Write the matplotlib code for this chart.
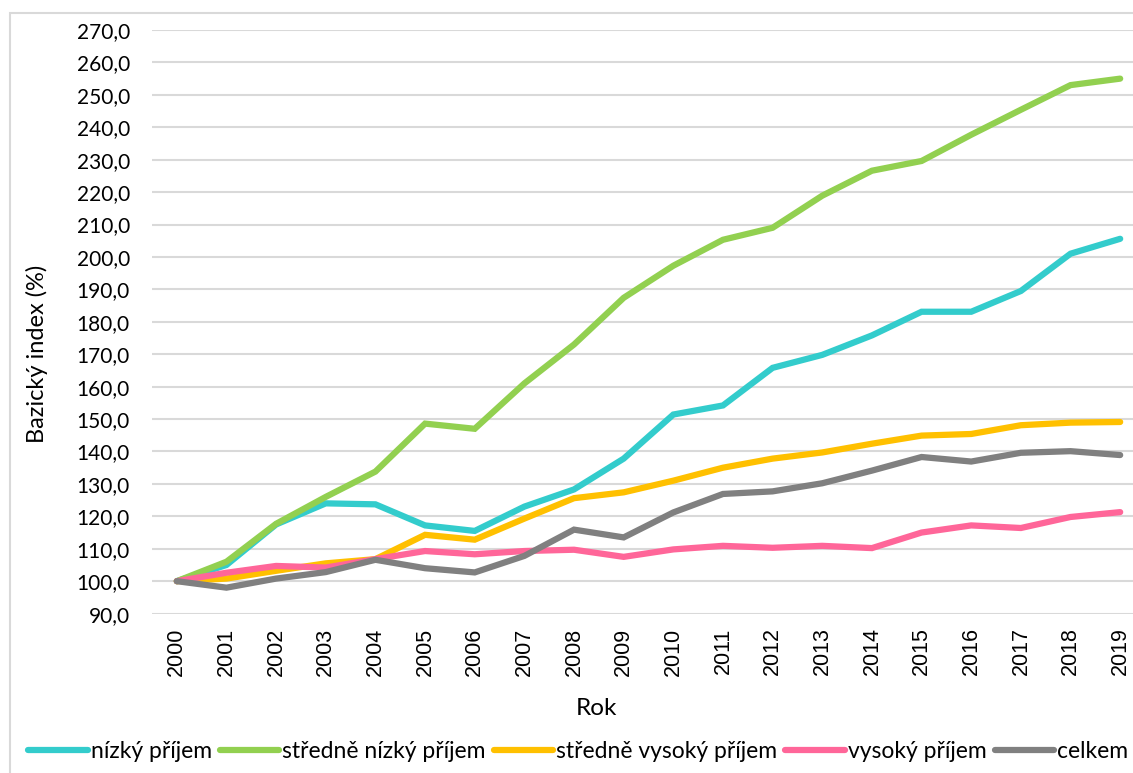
import matplotlib.pyplot as plt
from matplotlib.patches import Rectangle
from matplotlib.ticker import FuncFormatter, MultipleLocator

years = [str(y) for y in range(2000, 2020)]

nizky = [100.0, 105.0, 117.5, 124.0, 123.7, 117.2, 115.5, 123.0, 128.3, 137.8,
         151.4, 154.2, 165.8, 169.8, 175.8, 183.1, 183.1, 189.5, 201.0, 205.6]
stredne_nizky = [100.0, 106.0, 117.7, 126.0, 133.8, 148.6, 147.0, 161.0, 173.0, 187.4,
                 197.3, 205.3, 209.0, 218.9, 226.6, 229.6, 237.7, 245.4, 253.0, 255.0]
stredne_vysoky = [100.0, 100.8, 103.2, 105.5, 106.8, 114.3, 112.8, 119.3, 125.6, 127.4,
                  131.0, 135.0, 137.8, 139.7, 142.4, 144.9, 145.4, 148.1, 148.9, 149.1]
vysoky = [100.0, 102.6, 104.7, 104.2, 106.8, 109.3, 108.3, 109.3, 109.7, 107.5,
          109.8, 110.9, 110.3, 110.9, 110.2, 115.0, 117.2, 116.4, 119.8, 121.3]
celkem = [100.0, 98.0, 100.8, 102.8, 106.6, 104.0, 102.7, 107.8, 115.9, 113.5,
          121.2, 126.9, 127.7, 130.2, 134.1, 138.3, 136.9, 139.6, 140.1, 138.9]

series = [
    ("nízký příjem", nizky, "#33CCCC"),
    ("středně nízký příjem", stredne_nizky, "#92D050"),
    ("středně vysoký příjem", stredne_vysoky, "#FFC000"),
    ("vysoký příjem", vysoky, "#FF6699"),
    ("celkem", celkem, "#808080"),
]

fig = plt.figure(figsize=(11.33, 7.73), dpi=100)
fig.patch.set_facecolor("white")
# tenky ramecek grafu jako v Excelu
fig.add_artist(Rectangle((10 / 1133, -0.1), 1.2, 1 - 13 / 773 + 0.1,
                         transform=fig.transFigure, fill=False,
                         edgecolor="#d9d9d9", linewidth=1.5))

ax = fig.add_axes([152 / 1133, 1 - 613.6 / 773, 993 / 1133, 583.6 / 773])

x = list(range(len(years)))
lines = []
for name, vals, col in series:
    ln, = ax.plot(x, vals, color=col, linewidth=4.5, solid_capstyle="round",
                  solid_joinstyle="miter", label=name)
    lines.append(ln)

ax.set_xlim(-0.5, len(years) - 0.5)
ax.set_ylim(90, 270)
ax.yaxis.set_major_locator(MultipleLocator(10))
ax.yaxis.set_major_formatter(FuncFormatter(lambda v, p: f"{v:.1f}".replace(".", ",")))
ax.set_xticks(x)
ax.set_xticklabels(years, rotation=90, fontsize=15.5, family="Liberation Sans")
for lab in ax.get_yticklabels():
    lab.set_fontfamily("Lato")
    lab.set_fontsize(15)
ax.tick_params(axis="both", length=0)
ax.tick_params(axis="y", pad=16)
ax.tick_params(axis="x", pad=10)
ax.grid(axis="y", color="#d9d9d9", linewidth=1.5)
ax.set_axisbelow(True)
for s in ax.spines.values():
    s.set_visible(False)

ax.set_ylabel("Bazický index (%)", fontsize=17, family="Lato")
ax.yaxis.set_label_coords(-0.105, 0.445)
ax.set_xlabel("Rok", fontsize=17.5, family="Lato")
ax.xaxis.set_label_coords(0.448, -0.162)
ax.xaxis.label.set_va("center")

leg = fig.legend(handles=lines, loc="center left", bbox_to_anchor=(28 / 1133, 1 - 752 / 773),
                 ncol=5, frameon=False, prop={"family": "Lato", "size": 16.5},
                 handlelength=2.6, handletextpad=0.13, columnspacing=0.35,
                 borderpad=0, borderaxespad=0)

plt.savefig("out.png", dpi=100)
plt.close()
